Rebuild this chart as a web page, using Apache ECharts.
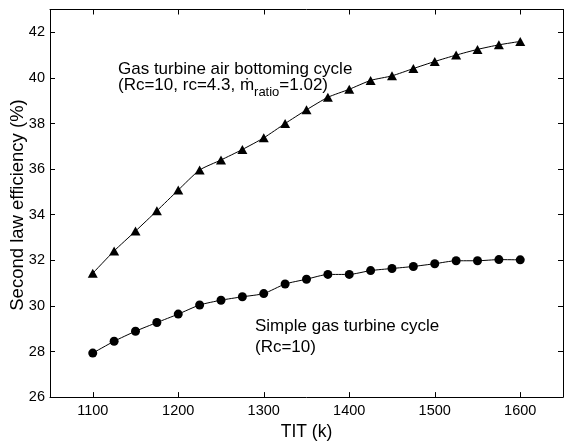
<!DOCTYPE html>
<html>
<head>
<meta charset="utf-8">
<script src="https://cdn.jsdelivr.net/npm/echarts@6/dist/echarts.min.js"></script>
<style>
  html, body { margin: 0; padding: 0; background: #fff; }
  #main { width: 566px; height: 446px; }
</style>
</head>
<body>
<div id="main"></div>
<script>
// TIT (K) values, every 25 K
const tit = [1100, 1125, 1150, 1175, 1200, 1225, 1250, 1275, 1300, 1325, 1350,
  1375, 1400, 1425, 1450, 1475, 1500, 1525, 1550, 1575, 1600];
// gas turbine air bottoming cycle (triangles)
const airBottoming = [31.43, 32.41, 33.28, 34.17, 35.08, 35.96, 36.40, 36.86, 37.37, 38.0, 38.6,
  39.15, 39.5, 39.89, 40.09, 40.41, 40.72, 41.0, 41.25, 41.45, 41.6];
// simple gas turbine cycle (circles)
const simpleCycle = [27.93, 28.45, 28.89, 29.27, 29.64, 30.04, 30.25, 30.40, 30.54, 30.96, 31.17,
  31.38, 31.38, 31.55, 31.64, 31.73, 31.85, 31.98, 31.98, 32.03, 32.02];

const font = 'Liberation Sans, Arial, DejaVu Sans, sans-serif';

const chart = echarts.init(document.getElementById('main'), null, { renderer: 'canvas' });

// x-axis: ticks on every 100 only
const xBase = {
  type: 'value',
  min: 1050,
  max: 1650,
  splitNumber: 6,
  splitLine: { show: false },
  axisLine: { show: true, onZero: false, lineStyle: { color: '#000', width: 1 } },
  axisTick: { show: true, inside: true, length: 5, lineStyle: { color: '#000' } }
};
const yBase = {
  type: 'value',
  min: 26,
  max: 43,
  interval: 2,
  splitLine: { show: false },
  axisLine: { show: true, onZero: false, lineStyle: { color: '#000', width: 1 } },
  axisTick: { show: true, inside: true, length: 5, lineStyle: { color: '#000' } }
};

const option = {
  backgroundColor: '#fff',
  animation: false,
  grid: { left: 50, right: -2, top: 9.5, bottom: 30.5 },
  xAxis: [
    Object.assign({}, xBase, {
      position: 'bottom',
      name: 'TIT (k)',
      nameLocation: 'middle',
      nameGap: 3,
      nameTextStyle: { color: '#000', fontSize: 17.5, fontFamily: font, verticalAlign: 'top' },
      axisLabel: {
        color: '#000', fontSize: 14.5, fontFamily: font, margin: 6,
        formatter: v => (v % 100 === 0 ? String(v) : '')
      }
    }),
    Object.assign({}, xBase, { position: 'top', axisLabel: { show: false } })
  ],
  yAxis: [
    Object.assign({}, yBase, {
      position: 'left',
      axisLabel: {
        color: '#000', fontSize: 14.5, fontFamily: font, margin: 5,
        formatter: v => (v % 2 === 0 && v <= 42 ? String(v) : '')
      }
    }),
    Object.assign({}, yBase, { position: 'right', axisLabel: { show: false } })
  ],
  graphic: [
    {
      type: 'text',
      x: 18, y: 205,
      rotation: Math.PI / 2,
      style: {
        text: 'Second law efficiency (%)',
        fill: '#000', font: '18.5px ' + font,
        align: 'center', verticalAlign: 'middle'
      }
    },
    {
      type: 'text',
      x: 118, y: 61,
      style: {
        text: '{a|Gas turbine air bottoming cycle}\n{a|(Rc=10, rc=4.3, ṁ}{sub|ratio}{a|=1.02)}',
        fill: '#000',
        rich: {
          a: { fontSize: 17, fontFamily: font, lineHeight: 16, verticalAlign: 'top', fill: '#000' },
          sub: { fontSize: 13, fontFamily: font, lineHeight: 16, padding: [9, 0, 0, 0], verticalAlign: 'top', fill: '#000' }
        }
      }
    },
    {
      type: 'text',
      x: 255, y: 316,
      style: {
        text: 'Simple gas turbine cycle\n(Rc=10)',
        fill: '#000',
        font: '17px ' + font,
        lineHeight: 21
      }
    }
  ],
  series: [
    {
      name: 'air bottoming',
      type: 'line',
      data: tit.map((t, i) => [t, airBottoming[i]]),
      symbol: 'triangle',
      symbolSize: [10, 9],
      itemStyle: { color: '#000' },
      lineStyle: { color: '#000', width: 1 },
      smooth: 0.2
    },
    {
      name: 'simple',
      type: 'line',
      data: tit.map((t, i) => [t, simpleCycle[i]]),
      symbol: 'circle',
      symbolSize: 9,
      itemStyle: { color: '#000' },
      lineStyle: { color: '#000', width: 1 },
      smooth: 0.2
    }
  ]
};

chart.setOption(option);
</script>
</body>
</html>
